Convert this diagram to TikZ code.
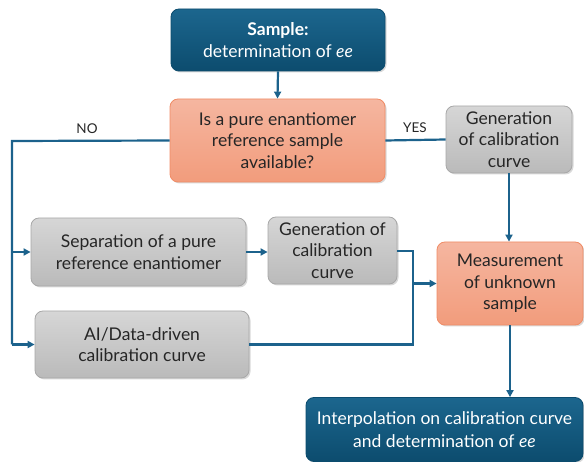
\documentclass[tikz,border=0pt]{standalone}
\usepackage{fontspec}
\setmainfont{Lato}
\usetikzlibrary{arrows.meta,shadows}
\definecolor{lineblue}{RGB}{28,98,140}
\definecolor{darktop}{RGB}{28,102,142}
\definecolor{darkbot}{RGB}{12,76,110}
\definecolor{salmontop}{RGB}{245,182,160}
\definecolor{salmonbot}{RGB}{242,156,124}
\definecolor{salmonline}{RGB}{240,140,102}
\definecolor{graytop}{RGB}{214,214,214}
\definecolor{graybot}{RGB}{186,186,186}
\definecolor{grayline}{RGB}{168,168,168}
\begin{document}
\begin{tikzpicture}[x=1pt,y=-1pt,
  base/.style={rounded corners=8pt, align=center, inner sep=0pt,
    font=\fontsize{17.5}{21.5}\selectfont,
    drop shadow={shadow xshift=1.5pt, shadow yshift=-1.5pt, opacity=0.25, fill=black!60}},
  darkbox/.style={base, draw=darkbot, line width=0.8pt, top color=darktop, bottom color=darkbot, text=white},
  salmonbox/.style={base, draw=salmonline, line width=0.8pt, top color=salmontop, bottom color=salmonbot, text=black!85},
  graybox/.style={base, draw=grayline, line width=0.8pt, top color=graytop, bottom color=graybot, text=black!85},
  conn/.style={draw=lineblue, line width=2.2pt},
  arr/.style={conn, -{Triangle[length=7pt,width=7pt]}},
  lbl/.style={font=\fontsize{13.5}{16}\selectfont, text=black!85}
]
\useasboundingbox (0,0) rectangle (584,462);

\node[darkbox, minimum width=214pt, minimum height=62pt] (sample) at (278,40)
  {\textbf{Sample:}\\determination of \textit{ee}};
\node[salmonbox, minimum width=215pt, minimum height=83pt] (dec) at (277.5,140.5)
  {Is a pure enantiomer\\reference sample\\available?};
\node[graybox, minimum width=126pt, minimum height=67pt] (gen1) at (509,139.5)
  {Generation\\of calibration\\curve};
\node[graybox, minimum width=215pt, minimum height=68pt] (sep) at (138.5,252)
  {Separation of a pure\\reference enantiomer};
\node[graybox, minimum width=129pt, minimum height=67pt] (gen2) at (332.5,250.5)
  {Generation of\\calibration\\curve};
\node[salmonbox, minimum width=146pt, minimum height=83pt] (meas) at (510,283.5)
  {Measurement\\of unknown\\sample};
\node[graybox, minimum width=214pt, minimum height=67pt] (ai) at (142,344.5)
  {AI/Data-driven\\calibration curve};
\node[darkbox, minimum width=277pt, minimum height=64pt, font=\fontsize{17.5}{23}\selectfont] (interp) at (444.5,429.5)
  {Interpolation on calibration curve\\and determination of \textit{ee}};

\node[lbl] (no) at (87,129) {NO};
\node[lbl] (yes) at (415,128) {YES};

\coordinate (nl) at (12,141);
\coordinate (nb) at (12,344.5);
\coordinate (ns) at (12,252);
\coordinate (jt) at (413,251);
\coordinate (jb) at (413,344.5);
\coordinate (jm) at (413,283.5);

\draw[arr] (sample.south) -- (dec.north);
\draw[conn] (dec.west) -- (nl) -- (nb);
\draw[arr] (nb) -- (ai.west);
\draw[arr] (ns) -- (sep.west);
\draw[conn] (dec.east) -- (gen1.west);
\draw[arr] (gen1.south) -- (gen1.south |- meas.north);
\draw[arr] (sep.east) -- (gen2.west |- sep.east);
\draw[conn] (gen2.east |- jt) -- (jt) -- (jb) -- (ai.east |- jb);
\draw[arr] (jm) -- (meas.west);
\draw[arr] (meas.south) -- (meas.south |- interp.north);
\end{tikzpicture}
\end{document}
